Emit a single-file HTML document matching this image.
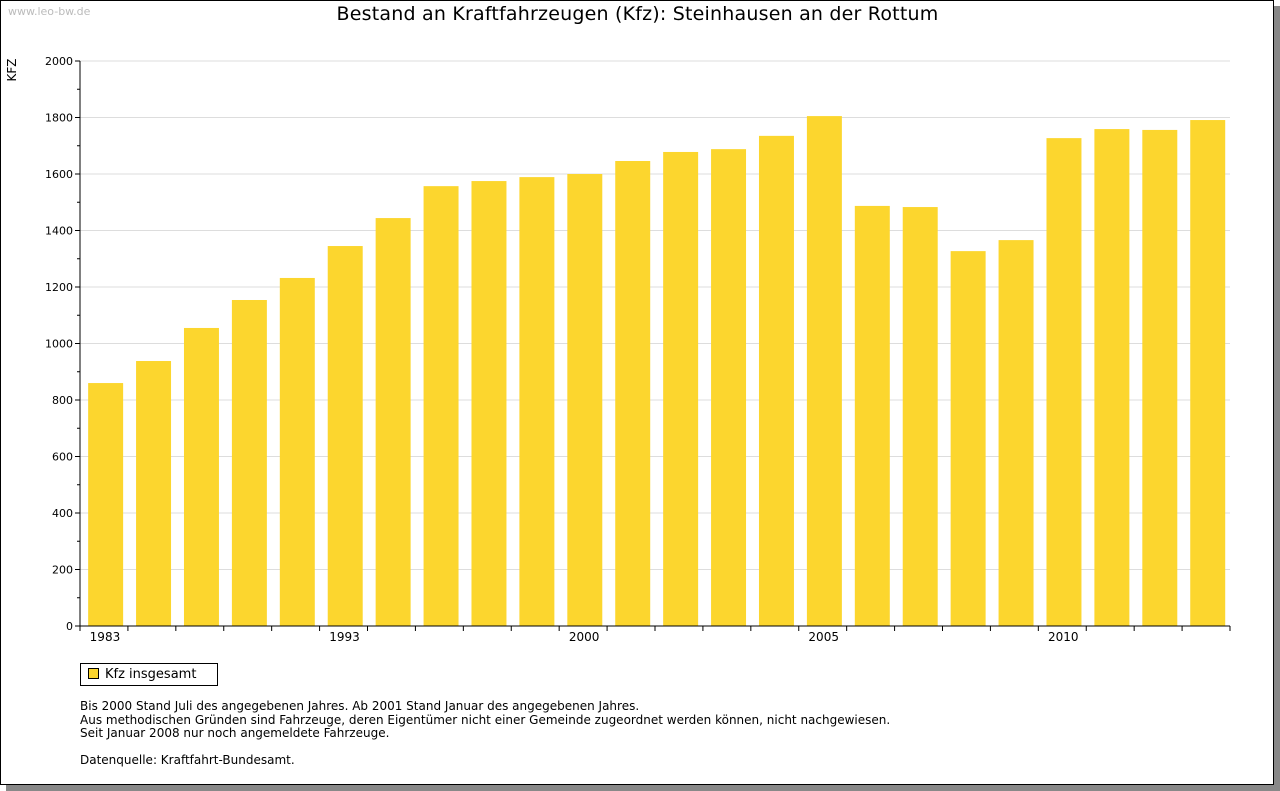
<!DOCTYPE html>
<html><head><meta charset="utf-8"><style>
body{margin:0;background:#fff;font-family:"DejaVu Sans","Liberation Sans",sans-serif;}
#frame{position:absolute;left:0;top:0;width:1272px;height:783px;border:1px solid #000;background:#fff;box-shadow:6px 6px 0 #888;}
.t{position:absolute;white-space:nowrap;}
</style></head><body>
<div id="frame"></div>
<div class="t" style="left:8px;top:5px;font-size:11px;color:#bbb">www.leo-bw.de</div>
<div class="t" style="left:0;width:1275px;text-align:center;top:3px;font-size:19px;letter-spacing:0.2px;color:#000">Bestand an Kraftfahrzeugen (Kfz): Steinhausen an der Rottum</div>
<svg id="chart" width="1280" height="791" style="position:absolute;left:0;top:0"></svg>
<div class="t" style="left:80px;top:663px;width:136px;height:21px;border:1px solid #000;font-size:13px;line-height:21px"><span style="display:inline-block;width:9px;height:9px;background:#fcd62e;border:1px solid #000;margin:0 6px 0 7px;vertical-align:-1px"></span>Kfz insgesamt</div>
<div class="t" style="left:80px;top:700px;font-size:12px;line-height:13.5px">Bis 2000 Stand Juli des angegebenen Jahres. Ab 2001 Stand Januar des angegebenen Jahres.<br>Aus methodischen Gründen sind Fahrzeuge, deren Eigentümer nicht einer Gemeinde zugeordnet werden können, nicht nachgewiesen.<br>Seit Januar 2008 nur noch angemeldete Fahrzeuge.<br><br>Datenquelle: Kraftfahrt-Bundesamt.</div>
<script>
const categories=["1983","1985","1987","1989","1991","1993","1995","1997","1998","1999","2000","2001","2002","2003","2004","2005","2006","2007","2008","2009","2010","2011","2012","2013"];
const values=[860,938,1055,1154,1232,1345,1444,1557,1575,1589,1600,1646,1678,1688,1735,1805,1487,1483,1327,1366,1727,1759,1756,1791];
const yTicks=[0,200,400,600,800,1000,1200,1400,1600,1800,2000];
const xLabels=["1983","1993","2000","2005","2010"];
const svg=document.getElementById('chart');const NS='http://www.w3.org/2000/svg';
const X0=80,X1=1230,Y0=626,Y1=61,YMAX=2000;
const band=(X1-X0)/categories.length;
const y=v=>Y0-(v/YMAX)*(Y0-Y1);
const x=i=>X0+band*i;
function mk(t,a){const e=document.createElementNS(NS,t);for(const k in a)e.setAttribute(k,a[k]);svg.appendChild(e);return e;}
yTicks.forEach(v=>{
 const g=mk('line',{x1:X0,x2:X1,y1:y(v),y2:y(v),stroke:'#ddd','stroke-width':1});
 
 
 const tk=mk('line',{x1:X0-5,x2:X0,y1:y(v),y2:y(v),stroke:'#000'});
 
 
 const t=mk('text',{x:X0-7,y:y(v)+4,'text-anchor':'end','font-size':11,'font-family':'DejaVu Sans, sans-serif'});
 t.textContent=v;
 
 
});
for(let v=100;v<YMAX;v+=200){const m=mk('line',{x1:X0-3,x2:X0,y1:y(v),y2:y(v),stroke:'#000'});
 
 }
values.forEach((v,i)=>{
 const r=mk('rect',{x:x(i)+band*0.17,y:y(v),width:band*0.73,height:Y0-y(v),fill:'#fcd62e'});
 
 
});
const ya=mk('line',{x1:X0,x2:X0,y1:Y1,y2:Y0,stroke:'#000'});


const xa=mk('line',{x1:X0,x2:X1,y1:Y0,y2:Y0,stroke:'#000'});


for(let i=0;i<=categories.length;i++){const tk=mk('line',{x1:x(i),x2:x(i),y1:Y0,y2:Y0+5,stroke:'#000'});
 
 }
categories.forEach((c,i)=>{if(xLabels.includes(c)){
 const t=mk('text',{x:x(i)+band/2+1,y:Y0+15,'text-anchor':'middle','font-size':12,'font-family':'DejaVu Sans, sans-serif'});
 t.textContent=c;
 
 }});
const yt=mk('text',{x:16,y:70,'text-anchor':'middle','font-size':12,'font-family':'DejaVu Sans, sans-serif',transform:'rotate(-90 16 70)'});
yt.textContent='KFZ';


</script>
</body></html>
